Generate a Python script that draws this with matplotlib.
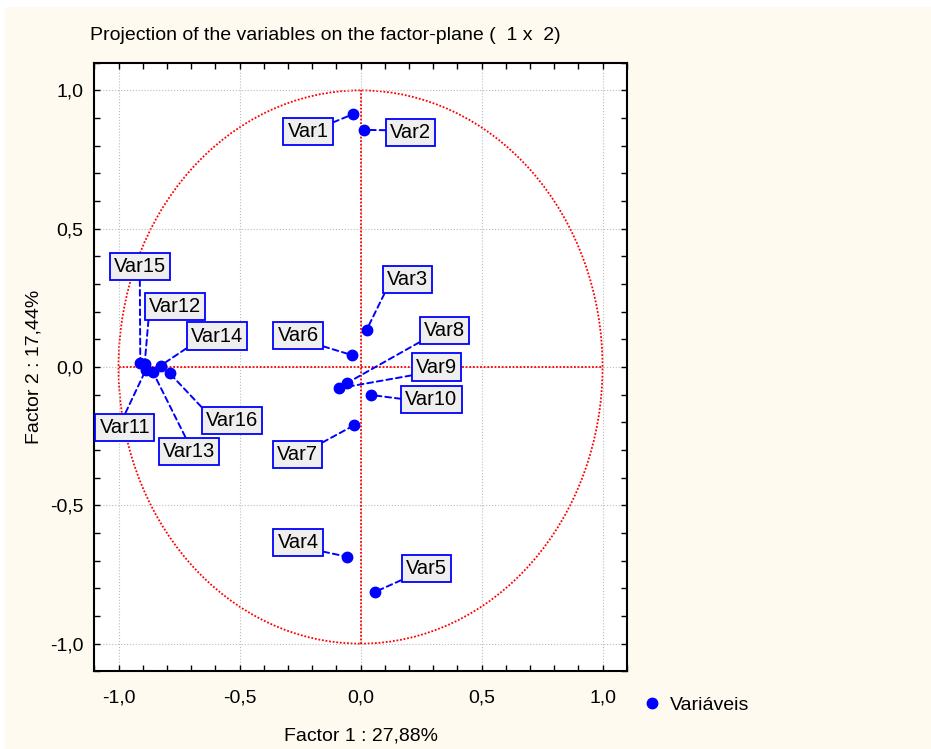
import matplotlib.pyplot as plt
from matplotlib.patches import Circle, Rectangle
from matplotlib.ticker import MultipleLocator, FuncFormatter

# factor loadings
names = ["Var1", "Var2", "Var3", "Var4", "Var5", "Var6", "Var7", "Var8",
         "Var9", "Var10", "Var11", "Var12", "Var13", "Var14", "Var15", "Var16"]
factor1 = [-0.031, 0.014, 0.025, -0.054, 0.060, -0.035, -0.025, -0.054,
           -0.090, 0.043, -0.888, -0.892, -0.858, -0.826, -0.910, -0.788]
factor2 = [0.914, 0.857, 0.134, -0.686, -0.813, 0.043, -0.210, -0.057,
           -0.077, -0.101, -0.012, 0.010, -0.018, 0.005, 0.016, -0.023]

# where each label box sits and which corner its leader line starts from
label_x = [-0.217, 0.207, 0.193, -0.258, 0.271, -0.258, -0.261, 0.347,
           0.314, 0.293, -0.974, -0.767, -0.710, -0.594, -0.912, -0.532]
label_y = [0.850, 0.849, 0.316, -0.633, -0.729, 0.114, -0.316, 0.133,
           0.000, -0.117, -0.217, 0.220, -0.304, 0.112, 0.365, -0.195]
label_rel = [(1, 0.9), (0, 0.6), (0, 0), (1, 0.05), (0, 0), (1, 0), (1, 1), (0, 0),
             (0, 0.1), (0, 0.5), (0.47, 1), (0, 0), (0.48, 1), (0, 0), (0.5, 0), (0, 1)]

plt.rcParams['font.family'] = ['Liberation Sans', 'DejaVu Sans']

fig = plt.figure(figsize=(9.31, 7.49), dpi=100, facecolor='#FFFAF0')
# thin white strip along the top and left edge
fig.patches.append(Rectangle((0, 1 - 7 / 749), 1, 7 / 749, transform=fig.transFigure,
                             facecolor='white', edgecolor='none', zorder=-10))
fig.patches.append(Rectangle((0, 0), 5 / 931, 1, transform=fig.transFigure,
                             facecolor='white', edgecolor='none', zorder=-10))

ax = fig.add_axes([0.1013, 0.1037, 0.5719, 0.8126])
ax.set_xlim(-1.1, 1.1)
ax.set_ylim(-1.1, 1.1)

ax.grid(True, which='major', color='#BBBBBB', linestyle=':', linewidth=0.8)
ax.add_patch(Circle((0, 0), 1, fill=False, edgecolor='red', linestyle=(0, (1, 1)), linewidth=1.3))
ax.plot([-1, 1], [0, 0], color='red', linestyle=(0, (1, 1)), linewidth=1.3)
ax.plot([0, 0], [-1, 1], color='red', linestyle=(0, (1, 1)), linewidth=1.3)

ax.plot(factor1, factor2, 'o', color='blue', markersize=7.5, zorder=6, label='Variáveis')

for name, x, y, lx, ly, rel in zip(names, factor1, factor2, label_x, label_y, label_rel):
    ax.annotate(name, xy=(x, y), xytext=(lx, ly), textcoords='data',
                ha='center', va='center', fontsize=14.5, zorder=5,
                bbox=dict(boxstyle='square,pad=0.2', facecolor='#EFEFEF',
                          edgecolor='blue', linewidth=1.3),
                arrowprops=dict(arrowstyle='-', color='blue', linewidth=1.4,
                                linestyle=(0, (3, 2)), relpos=rel,
                                shrinkA=0, shrinkB=0))

comma = FuncFormatter(lambda v, p: f"{v:.1f}".replace('.', ','))
ax.xaxis.set_major_locator(MultipleLocator(0.5))
ax.yaxis.set_major_locator(MultipleLocator(0.5))
ax.xaxis.set_minor_locator(MultipleLocator(0.1))
ax.yaxis.set_minor_locator(MultipleLocator(0.1))
ax.xaxis.set_major_formatter(comma)
ax.yaxis.set_major_formatter(comma)
ax.tick_params(which='both', direction='in', top=True, right=True, length=4, width=1, labelsize=14)
ax.tick_params(axis='x', which='major', pad=13)
ax.tick_params(axis='y', which='major', pad=8)
for s in ax.spines.values():
    s.set_linewidth(1.5)

ax.set_xlabel('Factor 1 : 27,88%', fontsize=14, labelpad=15)
ax.set_ylabel('Factor 2 : 17,44%', fontsize=14, labelpad=5)

fig.text(90 / 931, 1 - 35 / 749, 'Projection of the variables on the factor-plane (  1 x  2)',
         fontsize=14, ha='left', va='center')

fig.legend(loc='center left', bbox_to_anchor=(629 / 931, 1 - 705 / 749), frameon=False,
           fontsize=14, handlelength=0.6, handletextpad=0.6, markerscale=1.0)

fig.savefig('out.png', dpi=100, facecolor=fig.get_facecolor())
